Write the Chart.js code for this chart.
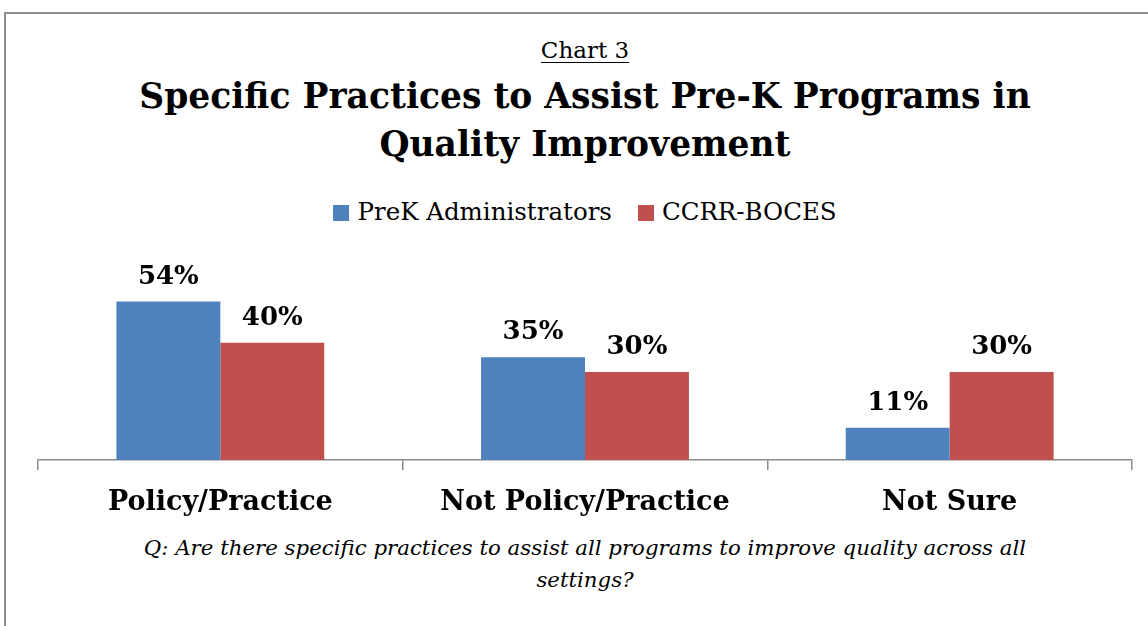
<!DOCTYPE html>
<html>
<head>
<meta charset="utf-8">
<script src="https://cdn.jsdelivr.net/npm/chart.js@4"></script>
<style>
  body { margin: 0; width: 1148px; height: 626px; overflow: hidden; background: #fff; font-family: "DejaVu Serif", serif; }
  #frame { position: absolute; left: 4px; top: 12px; width: 1200px; height: 700px; border: 2px solid #8c8c8c; box-sizing: border-box; }
  .txt { position: absolute; left: 4px; width: 1162px; text-align: center; color: #000; white-space: nowrap; }
  #kicker { top: 34px; font-size: 23px; line-height: 32px; text-decoration: underline; text-decoration-thickness: 1px; text-underline-offset: 4px; }
  #title { top: 72px; font-size: 34.5px; line-height: 48px; font-weight: bold; }
  #legend { top: 196px; font-size: 24.5px; line-height: 32px; }
  #legend span.box { display: inline-block; width: 16px; height: 16px; margin-right: 8px; vertical-align: -1px; }
  #legend span.item { margin: 0 13px; }
  #question { top: 532px; font-size: 21.3px; line-height: 32px; font-style: italic; }
  canvas { position: absolute; left: 0; top: 0; }
</style>
</head>
<body>
<div id="frame"></div>
<div class="txt" id="kicker">Chart 3</div>
<div class="txt" id="title">Specific Practices to Assist Pre-K Programs in<br>Quality Improvement</div>
<div class="txt" id="legend"></div>
<div class="txt" id="question">Q: Are there specific practices to assist all programs to improve quality across all<br>settings?</div>
<canvas id="chart" width="1148" height="626"></canvas>
<script>
const categories = ["Policy/Practice", "Not Policy/Practice", "Not Sure"];
const seriesNames = ["PreK Administrators", "CCRR-BOCES"];
const prekAdmin = [54, 35, 11];
const ccrrBoces = [40, 30, 30];
const colors = ["#4f81bd", "#c0504d"];

const $ = (id) => document.getElementById(id);

$("legend").innerHTML = seriesNames
  .map((n, i) => `<span class="item"><span class="box" style="background:${colors[i]}"></span>${n}</span>`)
  .join("");

const barLabels = {
  id: "barLabels",
  afterDatasetsDraw(chart) {
    const ctx = chart.ctx;
    ctx.save();
    ctx.font = "bold 26px 'DejaVu Serif'";
    ctx.fillStyle = "#000";
    ctx.textAlign = "center";
    ctx.textBaseline = "alphabetic";
    chart.data.datasets.forEach((ds, i) => {
      chart.getDatasetMeta(i).data.forEach((bar, j) => {
        ctx.fillText(ds.data[j] + "%", bar.x, bar.y - 18);
      });
    });
    ctx.restore();
  }
};

new Chart($("chart").getContext("2d"), {
  type: "bar",
  data: {
    labels: categories,
    datasets: [
      { label: seriesNames[0], data: prekAdmin, backgroundColor: colors[0] },
      { label: seriesNames[1], data: ccrrBoces, backgroundColor: colors[1] }
    ]
  },
  options: {
    responsive: false,
    animation: false,
    layout: { padding: { left: 38, right: 16, top: 284, bottom: 0 } },
    datasets: { bar: { categoryPercentage: 0.57, barPercentage: 1 } },
    plugins: { legend: { display: false }, title: { display: false }, tooltip: { enabled: false } },
    scales: {
      y: { display: false, min: 0, max: 60 },
      x: {
        afterFit: (s) => { s.height = 166; },
        border: { display: true, color: "#8c8c8c", width: 1.5 },
        grid: { offset: true, drawOnChartArea: false, drawTicks: true, tickLength: 10, color: "#8c8c8c", lineWidth: 1.5 },
        ticks: { color: "#000", padding: 17, font: { family: "DejaVu Serif", size: 27, weight: "bold" } }
      }
    }
  },
  plugins: [barLabels]
});
</script>
</body>
</html>
